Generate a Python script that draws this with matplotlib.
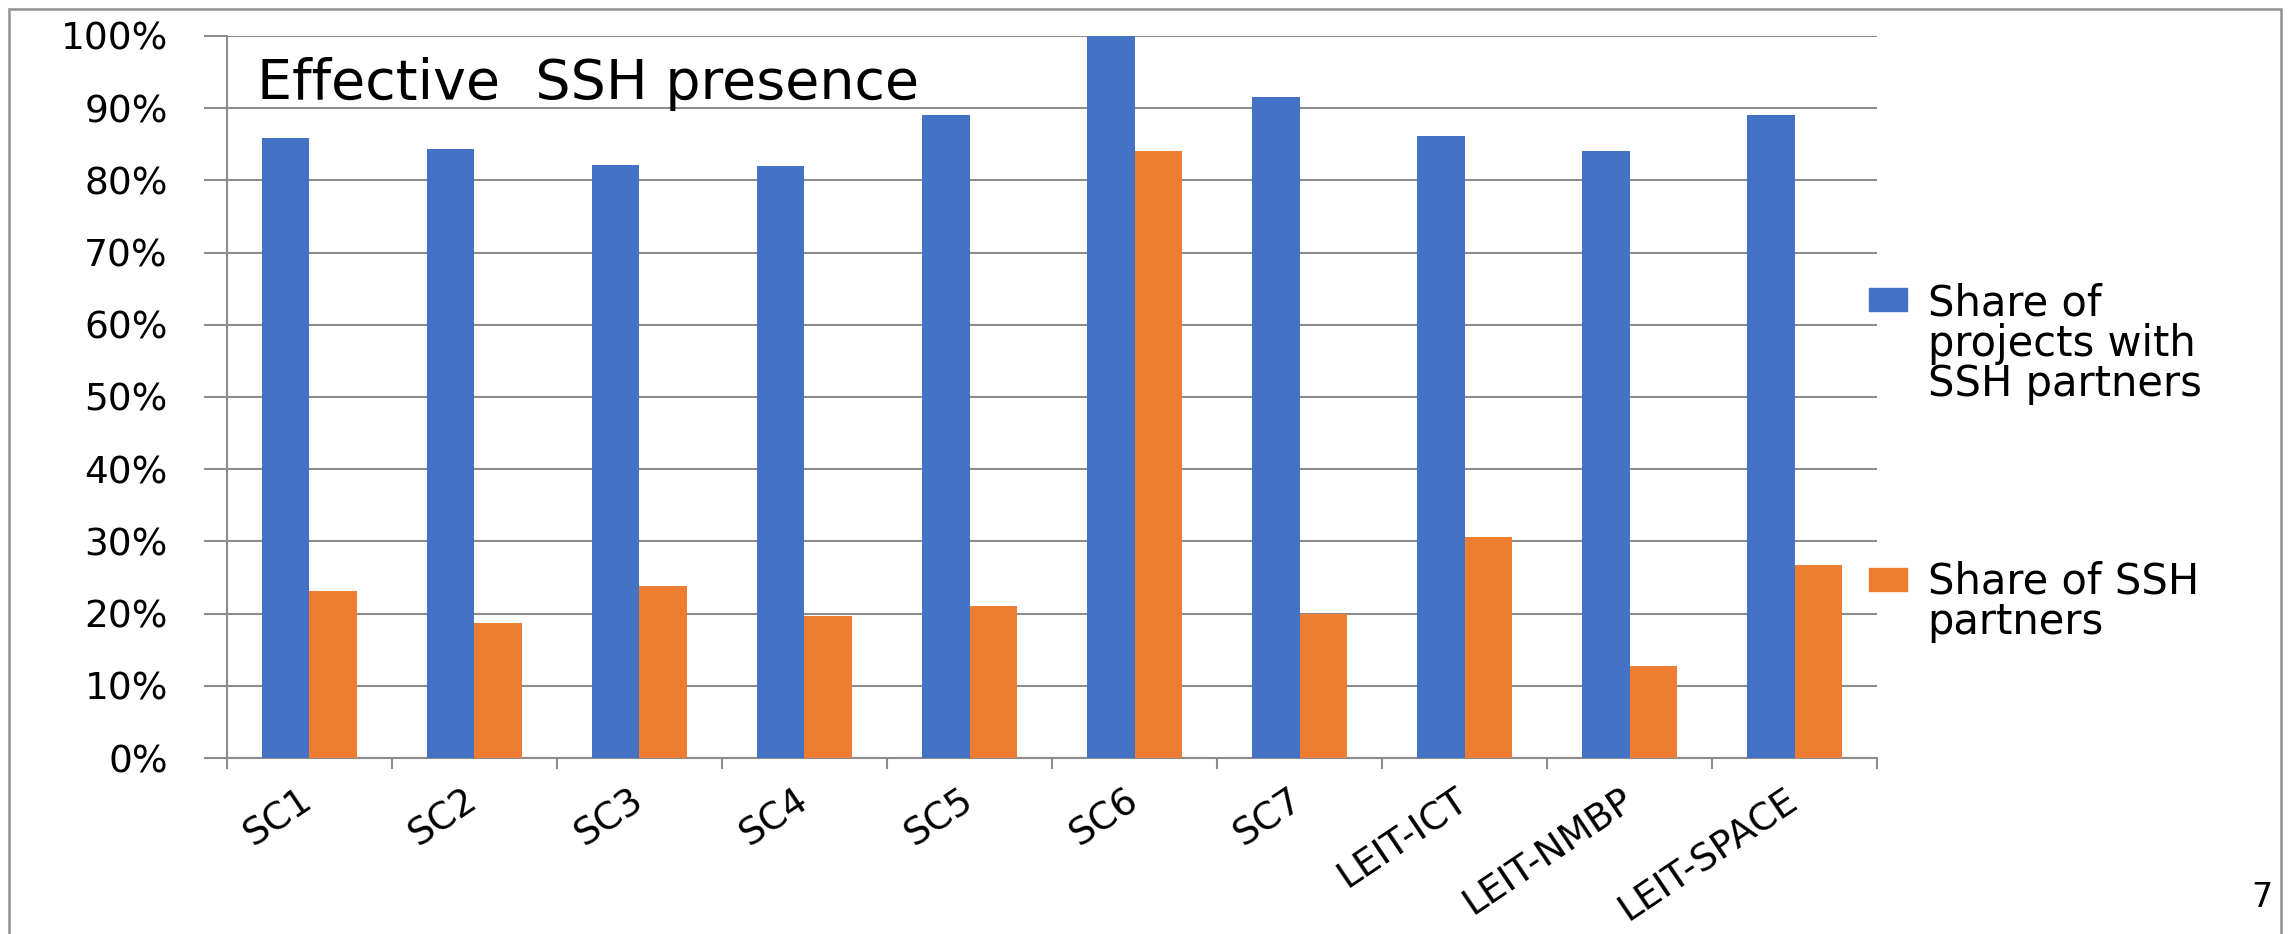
import matplotlib.pyplot as plt
import numpy as np
from matplotlib.patches import Rectangle
from matplotlib.ticker import FixedLocator, FuncFormatter

categories = ["SC1", "SC2", "SC3", "SC4", "SC5", "SC6", "SC7",
              "LEIT-ICT", "LEIT-NMBP", "LEIT-SPACE"]
projects_with_ssh = [85.9, 84.3, 82.1, 82.0, 89.0, 100.0, 91.5, 86.2, 84.0, 89.0]
ssh_partners_share = [23.2, 18.7, 23.8, 19.7, 21.0, 84.0, 20.0, 30.6, 12.7, 26.7]
series_labels = ["Share of\nprojects with\nSSH partners", "Share of SSH\npartners"]
series_colors = ["#4472C4", "#ED7D31"]
yticks = list(range(0, 101, 10))
title = "Effective  SSH presence"
page_number = "7"

grid_col = "#8c8c8c"

fig = plt.figure(figsize=(22.92, 9.34), dpi=100)
ax = fig.add_axes([0.099, 0.1884, 0.72, 0.7731])

x = np.arange(len(categories))
w = 1 / 3.5
ax.bar(x - w / 2, projects_with_ssh, w, color=series_colors[0], zorder=3)
ax.bar(x + w / 2, ssh_partners_share, w, color=series_colors[1], zorder=3)

ax.set_xlim(-0.5, len(categories) - 0.5)
ax.set_ylim(0, 100)

# y axis: percent labels, grid, outward ticks like excel
ax.set_yticks(yticks)
ax.yaxis.set_major_formatter(FuncFormatter(lambda v, p: f"{v:.0f}%"))
ax.tick_params(axis="y", direction="out", length=16.5, width=1.5,
               color=grid_col, pad=26, labelsize=27)
ax.grid(axis="y", color=grid_col, linewidth=1.5)
ax.set_axisbelow(True)

# x axis: ticks on category boundaries, labels in the middle
ax.xaxis.set_major_locator(FixedLocator(np.arange(-0.5, len(categories), 1.0)))
ax.xaxis.set_major_formatter(FuncFormatter(lambda v, p: ""))
ax.xaxis.set_minor_locator(FixedLocator(x))
ax.set_xticklabels(categories, minor=True, rotation=34, ha="right",
                   va="center", rotation_mode="anchor", fontsize=27)
ax.tick_params(axis="x", which="major", direction="out", length=8,
               width=1.5, color=grid_col)
ax.tick_params(axis="x", which="minor", length=0, pad=28)

for s in ["top", "right"]:
    ax.spines[s].set_visible(False)
for s in ["left", "bottom"]:
    ax.spines[s].set_color(grid_col)
    ax.spines[s].set_linewidth(1.5)

fig.text(0.112, 0.894, title, fontsize=40, va="baseline", ha="left")

# legend drawn by hand so the keys sit on the first line of text
key_y = [0.667, 0.367]
text_y = [0.632, 0.356]
for col, lab, ky, ty in zip(series_colors, series_labels, key_y, text_y):
    fig.patches.append(Rectangle((0.8155, ky), 0.0165, 0.0245,
                                 transform=fig.transFigure, color=col))
    fig.text(0.841, ty, lab, fontsize=30, va="center", ha="left",
             linespacing=0.95)

# slide frame
fig.patches.append(Rectangle((0.0039, -0.1), 0.9913, 1.09,
                             transform=fig.transFigure, fill=False,
                             edgecolor="#909090", linewidth=1.8))
fig.text(0.987, 0.029, page_number, fontsize=24, ha="center", va="baseline")

fig.savefig("out.png", dpi=100)
